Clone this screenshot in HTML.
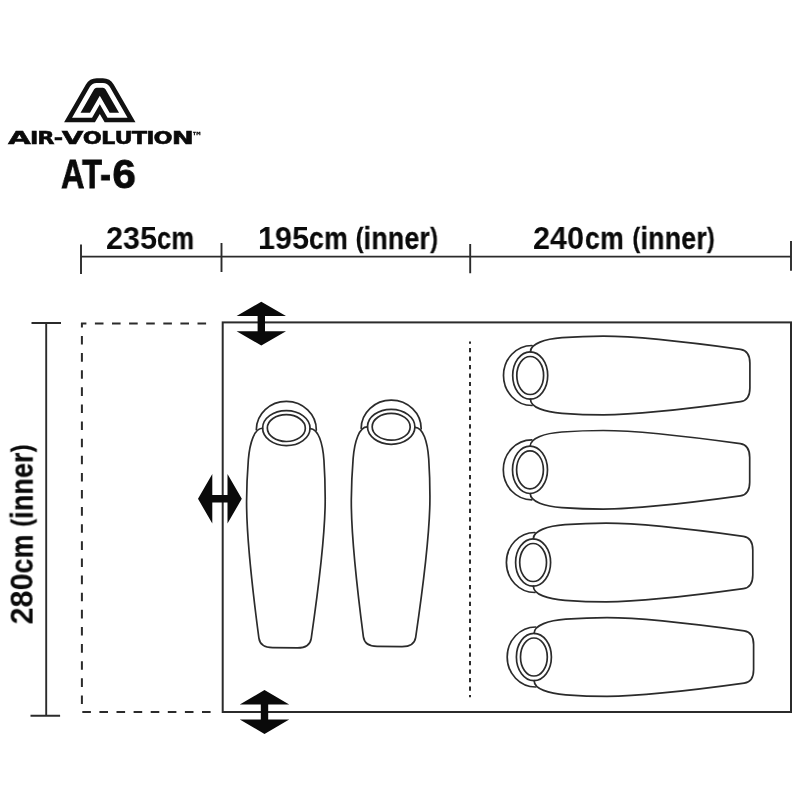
<!DOCTYPE html>
<html lang="en">
<head>
<meta charset="utf-8">
<title>AIR-VOLUTION AT-6 floor plan</title>
<style>
html,body{margin:0;padding:0;background:#fff;}
body{width:800px;height:800px;overflow:hidden;position:relative;}
svg{position:absolute;left:0;top:0;display:block;}
.ln{stroke:#2b2b2b;stroke-width:2;fill:none;}
.bag{stroke:#2b2b2b;stroke-width:1.7;fill:none;stroke-linecap:round;stroke-linejoin:round;}
.ar{fill:#0a0a0a;}

.lbl{will-change:transform;position:absolute;white-space:nowrap;font-family:"Liberation Sans",sans-serif;font-weight:700;color:#0a0a0a;font-size:31.2px;line-height:31.2px;transform-origin:0 26.41px;transform:scaleX(.98);}
.lbl span{display:inline-block;transform-origin:0 50%;transform:scaleX(.87);letter-spacing:.35px;-webkit-text-stroke:.3px #0a0a0a;}
.lbl i{font-style:normal;font-size:27px;position:relative;top:-2.4px;}
.model{will-change:transform;position:absolute;white-space:nowrap;font-family:"Liberation Sans",sans-serif;font-weight:700;color:#0a0a0a;font-size:41.2px;line-height:41.2px;transform-origin:0 34.9px;transform:scaleX(.79);-webkit-text-stroke:0.8px #0a0a0a;}
.model span{display:inline-block;transform-origin:0 50%;transform:scaleX(1.3);}
.brand{will-change:transform;position:absolute;white-space:nowrap;font-family:"DejaVu Sans","Liberation Sans",sans-serif;font-weight:700;color:#0a0a0a;font-size:18px;line-height:18px;letter-spacing:-0.75px;font-kerning:none;transform-origin:0 0;transform:scaleX(1.25);-webkit-text-stroke:0.5px #0a0a0a;}
.brand span{display:inline-block;transform-origin:0 50%;}
</style>
</head>
<body>
<svg width="800" height="800" viewBox="0 0 800 800">
<defs>
<g id="bag" class="bag">
<path d="M-30,28.7 A30,28.5 0 0 1 30,28.7"/>
<ellipse cx="0" cy="26.9" rx="23.7" ry="17.5"/>
<ellipse cx="0" cy="26.9" rx="19" ry="13.4"/>
<path d="M23.7,27.2 C32,27 36.5,42 37.8,58.8 C38.6,70 39.3,85 39.3,100 C39.3,140 32,195 26.15,237.2 C25.2,243.5 20,246.6 12.4,246.6 L-12.4,246.6 C-20,246.6 -25.2,243.5 -26.15,237.2 C-32,195 -39.3,140 -39.3,100 C-39.3,85 -38.6,70 -37.8,58.8 C-36.5,42 -32,27 -23.7,27.2"/>
</g>
<path id="arr" class="ar" d="M0,-21.9 L24.7,-7.6 L3.7,-7.6 L3.7,7.6 L24.7,7.6 L0,21.9 L-24.7,7.6 L-3.7,7.6 L-3.7,-7.6 L-24.7,-7.6 Z"/>
</defs>

<!-- logo mark -->
<path fill="#111" d="M64.10,122.30 L85.89,84.55 A12.50,12.50 0 0 1 96.72,78.30 L102.88,78.30 A12.50,12.50 0 0 1 113.71,84.55 L135.50,122.30 L104.65,122.30 L99.80,113.90 L94.95,122.30 Z"/>
<path fill="#fff" d="M72.06,117.70 L89.87,86.85 A7.90,7.90 0 0 1 96.72,82.90 L102.88,82.90 A7.90,7.90 0 0 1 109.73,86.85 L127.54,117.70 L107.53,117.70 L99.80,104.30 L92.07,117.70 Z"/>
<path fill="#111" d="M80.55,112.80 L94.12,89.30 A3.00,3.00 0 0 1 96.72,87.80 L102.88,87.80 A3.00,3.00 0 0 1 105.48,89.30 L119.05,112.80 L109.61,112.80 L99.80,95.80 L89.99,112.80 Z"/>

<!-- top dimension line -->
<path class="ln" style="stroke-width:1.9" d="M81,256.6 H791 M81,244.6 V274.1 M221.5,242.9 V272.1 M470.2,244 V273.3 M791,241 V270.7"/>

<!-- left dimension line -->
<path class="ln" style="stroke-width:1.9" d="M46.2,323 V715.8 M31.5,323 H61 M30.5,715.8 H60.1"/>

<!-- porch (dashed) -->
<path class="ln" d="M81,323.6 H214" stroke-dasharray="8.6 8.5" stroke-dashoffset="3.2"/>
<path class="ln" d="M81.9,323 V708" stroke-dasharray="8.6 8.52" stroke-dashoffset="4.2"/>
<path class="ln" d="M82.3,712 H214" stroke-dasharray="8.6 8.5"/>

<!-- inner tent outline -->
<rect class="ln" x="222.7" y="322.4" width="568.3" height="389.6"/>
<path class="ln" d="M470,341.6 V697.3" stroke-dasharray="4.2 4.26" stroke-dashoffset="2"/>

<!-- door arrows -->
<use href="#arr" x="261.3" y="323.7"/>
<use href="#arr" x="264.5" y="712"/>
<use href="#arr" transform="translate(219.9,498.8) rotate(90)"/>

<!-- sleeping bags -->
<use href="#bag" transform="translate(286.5,401.2) rotate(0.35)"/>
<use href="#bag" transform="translate(391.4,399.9) rotate(0.45)"/>
<use href="#bag" transform="translate(503.3,375.5) rotate(-90)"/>
<use href="#bag" transform="translate(503.1,469.8) rotate(-90)"/>
<use href="#bag" transform="translate(506.2,562.5) rotate(-90)"/>
<use href="#bag" transform="translate(507,657) rotate(-90)"/>
</svg>
<div class="brand" style="left:8.4px;top:128.9px"><span style="transform:scaleX(1.31);margin-right:4.32px">A</span>IR-<span style="transform:scaleX(1.245);margin-right:3.41px">V</span>OLUTIO<span style="transform:scaleX(1.17)">N</span><span style="position:absolute;left:147.4px;top:1.7px;font-size:11px;line-height:12px;letter-spacing:0;-webkit-text-stroke:0.25px #0a0a0a;transform:scaleX(.78)">™</span></div>
<div class="model" style="left:61.1px;top:154px">AT-<span style="margin-left:2.1px">6</span></div>
<div class="lbl" style="left:106.4px;top:222.9px">235<span style="transform:scaleX(.83)">cm</span></div>
<div class="lbl" style="left:257.5px;top:222.9px">195<span>cm <i>(</i>inner<i>)</i></span></div>
<div class="lbl" style="left:533.3px;top:222.9px">240<span style="margin-left:.6px;word-spacing:1px">cm <i>(</i>inner<i>)</i></span></div>
<div class="lbl" style="left:33px;top:597.6px;transform:rotate(-90deg) scaleX(.98)">280<span>cm <i>(</i>inner<i>)</i></span></div>
</body>
</html>
